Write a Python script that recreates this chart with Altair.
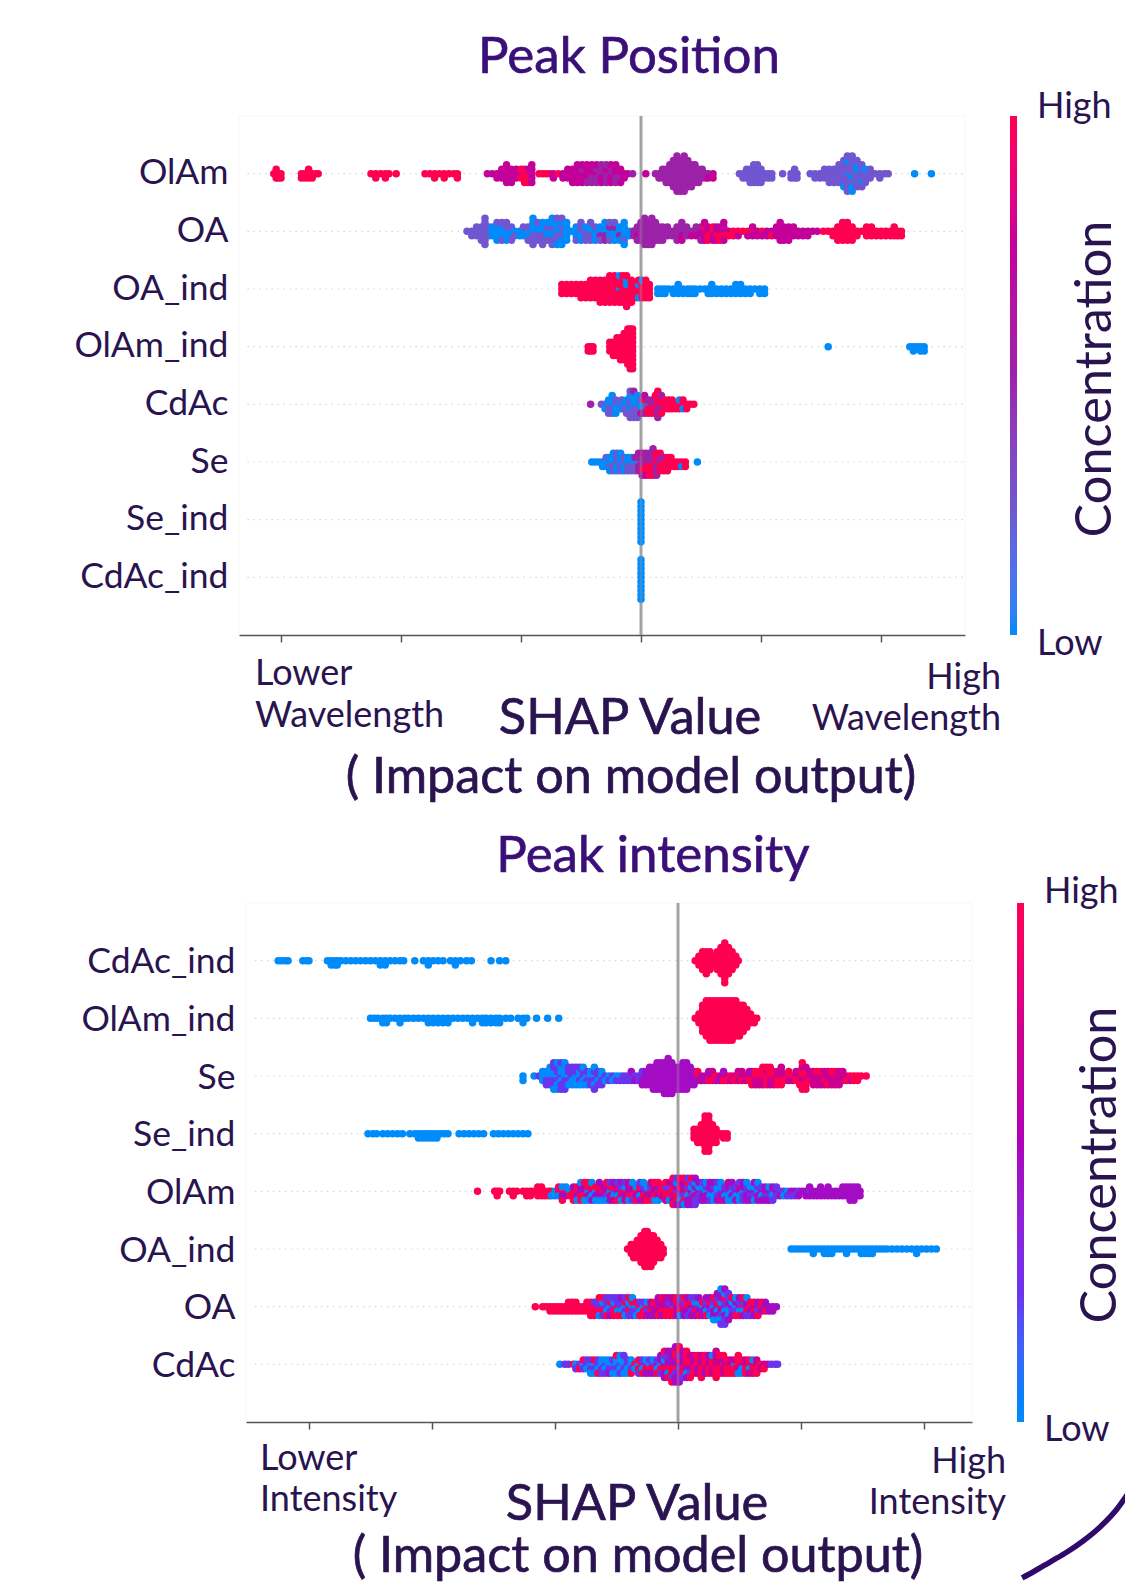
import json
import math
import altair as alt

# ---- labels -----------------------------------------------------------------
ROWS_POSITION = ["OlAm", "OA", "OA_ind", "OlAm_ind", "CdAc", "Se", "Se_ind", "CdAc_ind"]
ROWS_INTENSITY = ["CdAc_ind", "OlAm_ind", "Se", "Se_ind", "OlAm", "OA_ind", "OA", "CdAc"]
TICKS = [-3, -2, -1, 0, 1, 2]
# concentration: 0 low ... 4 high
LEVELS = [0.0, 0.25, 0.5, 0.75, 1.0]

# ---- Peak Position: (SHAP value x100, colour level of each stacked dot) ------
P_OLAM = [(-306,"4"),(-304,"444"),(-302,"44"),(-300,"44"),(-283,"44"),(-280,"44"),(-277,"444"),(-274,"44"),(-271,"4"),(-269,"4"),
 (-225,"4"),(-221,"44"),(-217,"4"),(-213,"44"),(-210,"4"),(-204,"4"),(-180,"4"),(-176,"4"),(-172,"44"),(-168,"4"),(-164,"44"),(-160,"4"),(-156,"4"),(-153,"44"),
 (-128,"3"),(-124,"3"),(-120,"33"),(-116,"333"),(-112,"33333"),(-108,"3333"),(-104,"333"),(-100,"344"),(-97,"4444"),(-94,"4434"),(-91,"33333"),
 (-85,"4"),(-82,"4"),(-79,"4"),(-76,"4"),(-73,"33"),(-69,"4"),(-65,"33"),(-61,"333"),(-57,"3333"),(-53,"33333"),(-49,"33233"),(-45,"33323"),(-41,"32323"),(-37,"32223"),
 (-33,"23232"),(-29,"22322"),(-25,"23233"),(-21,"32323"),(-17,"3233"),(-14,"33"),(-11,"3"),(-7,"2"),(4,"3"),
 (12,"2"),(15,"22"),(18,"222"),(21,"2222"),(24,"22222"),(27,"2222222"),(30,"222222222"),(33,"22222222"),(36,"222222222"),(39,"2222222"),(42,"222222"),(45,"22222"),(48,"2222"),(51,"222"),(54,"22"),(56,"23"),(60,"33"),
 (82,"1"),(85,"11"),(88,"111"),(91,"1111"),(94,"11111"),(97,"11111"),(100,"1111"),(103,"11"),(106,"11"),(109,"11"),(118,"1"),(125,"11"),(128,"111"),(130,"11"),
 (141,"1"),(145,"11"),(149,"11"),(153,"111"),(157,"1111"),(161,"1111"),(165,"11111"),(169,"1111101"),(172,"011111011"),(176,"101110101"),(180,"1101011"),(184,"111011"),(187,"1101"),(191,"111"),(195,"1"),(199,"11"),(203,"1"),(206,"1"),
 (228,"0"),(242,"0")]
P_OA = [(-145,"1"),(-141,"11"),(-137,"111"),(-133,"1111"),(-130,"1111111"),(-127,"111"),(-124,"000"),(-120,"00001"),(-116,"00011"),(-112,"00101"),(-108,"0011"),(-105,"01"),(-101,"00"),(-98,"001"),
 (-94,"0011"),(-90,"0101010"),(-86,"01011"),(-82,"010101"),(-78,"00110"),(-74,"0011010"),(-70,"0101001"),(-66,"0110001"),(-62,"00000"),(-58,"0"),
 (-54,"0001"),(-50,"10101"),(-46,"1101"),(-42,"01011"),(-38,"0010"),(-34,"0201"),(-30,"02020"),(-26,"00211"),(-22,"00201"),(-18,"0200"),(-14,"000100"),(-10,"00"),(-7,"0"),
 (-6,"22"),(-3,"2322"),(0,"22222"),(3,"2222222"),(6,"222222"),(9,"2222222"),(12,"22222"),(15,"2222"),(18,"2222"),(22,"222"),(26,"22"),(30,"2222"),(34,"23232"),(38,"222"),(42,"23"),(46,"232"),(50,"3322"),(53,"33433"),(56,"3434"),(60,"4343"),(63,"3433"),
 (66,"3434"),(69,"34333"),(73,"34"),(77,"44"),(81,"43"),(85,"4"),(89,"43"),(93,"433"),(97,"33"),(101,"43"),(105,"33"),(109,"34"),(113,"333"),(116,"33333"),(119,"3333"),(123,"3333"),(127,"333"),(131,"33"),(135,"33"),(139,"33"),(143,"3"),(147,"3"),
 (152,"4"),(156,"4"),(160,"44"),(164,"4444"),(168,"44444"),(172,"44444"),(176,"4444"),(180,"44"),(184,"4"),(188,"444"),(192,"444"),(196,"44"),(200,"44"),(204,"44"),(208,"44"),(211,"444"),(214,"44"),(217,"44")]
P_OA_IND = [(-66,"444"),(-62,"444"),(-58,"444"),(-54,"444"),(-50,"4444"),(-46,"4444"),(-42,"44444"),(-38,"44444"),(-34,"444444"),(-30,"444444"),(-26,"4444444"),(-22,"4444444"),(-18,"0444440"),(-15,"4444444"),(-12,"44040444"),(-8,"444444"),(-5,"4444"),(-2,"44004"),(1,"44440"),(4,"44444"),(7,"4444"),
 (14,"00"),(17,"00"),(20,"00"),(23,"0"),(27,"00"),(31,"000"),(35,"00"),(39,"00"),(42,"00"),(45,"00"),(49,"0"),(53,"0"),(56,"00"),(59,"000"),(63,"00"),(67,"00"),(71,"00"),(75,"00"),(79,"000"),(83,"000"),(87,"00"),(91,"00"),(95,"0"),(99,"00"),(103,"00")]
P_OLAM_IND = [(-44,"44"),(-42,"44"),(-40,"44"),(-26,"444"),(-23,"4444"),(-20,"44444"),(-17,"444444"),(-14,"4444444"),(-11,"444444444"),(-9,"4444444444"),(-7,"4444444444"),
 (156,"0"),(224,"0"),(227,"00"),(230,"0"),(233,"00"),(236,"00")]
P_CDAC = [(-42,"2"),(-33,"1"),(-30,"10"),(-27,"0101"),(-24,"01010"),(-21,"1010"),(-18,"00"),(-16,"101"),(-14,"01"),(-12,"0101"),(-9,"1011011"),(-6,"0101012"),(-3,"010101"),
 (0,"0013"),(3,"01423"),(6,"1424"),(9,"2424"),(12,"24244"),(14,"4242424"),(17,"42442"),(20,"444"),(23,"444"),(26,"444"),(29,"44"),(32,"440"),(35,"404"),(38,"44"),(41,"4"),(44,"4")]
P_SE = [(-41,"0"),(-38,"0"),(-35,"0"),(-32,"00"),(-29,"001"),(-26,"0100"),(-23,"01010"),(-20,"10101"),(-17,"01010"),(-14,"1010"),(-11,"0101"),(-8,"0101"),(-5,"0121"),(-2,"12222"),
 (1,"222432"),(4,"242423"),(7,"242424"),(10,"2424242"),(13,"424242"),(16,"24244"),(19,"4424"),(22,"4444"),(25,"444"),(28,"44"),(31,"44"),(34,"40"),(37,"44"),(47,"0")]
P_SE_IND = [(0,"0000000000")]
P_CDAC_IND = [(0,"0000000000")]

# ---- Peak intensity ----------------------------------------------------------
I_CDAC_IND = [(-325,"0"),(-322,"0"),(-319,"0"),(-317,"0"),(-305,"0"),(-302,"0"),(-300,"0"),(-285,"0"),(-282,"00"),(-279,"00"),(-277,"00"),(-274,"0"),(-270,"0"),(-266,"0"),(-262,"0"),(-258,"0"),(-254,"0"),(-250,"0"),(-246,"0"),(-242,"00"),(-238,"00"),(-234,"0"),(-230,"0"),(-226,"0"),(-223,"0"),
 (-214,"0"),(-207,"0"),(-203,"00"),(-199,"0"),(-195,"0"),(-191,"0"),(-185,"0"),(-181,"00"),(-177,"0"),(-172,"0"),(-168,"0"),(-152,"0"),(-145,"0"),(-140,"0"),
 (14,"4"),(17,"444"),(20,"44444"),(23,"444444"),(26,"44444"),(29,"444"),(32,"44444"),(35,"4444444"),(38,"4444444444"),(41,"4444444"),(44,"44444"),(47,"444"),(49,"4")]
I_OLAM_IND = [(-250,"0"),(-247,"0"),(-244,"0"),(-240,"00"),(-237,"00"),(-234,"0"),(-230,"0"),(-226,"00"),(-222,"0"),(-219,"0"),(-215,"0"),(-211,"0"),(-207,"0"),(-203,"00"),(-199,"00"),(-195,"00"),(-191,"00"),(-187,"00"),(-183,"0"),(-179,"0"),(-175,"0"),(-171,"0"),(-167,"00"),(-163,"0"),(-159,"00"),(-156,"00"),(-152,"00"),(-148,"00"),(-145,"00"),(-140,"0"),(-136,"0"),(-130,"0"),(-126,"00"),(-123,"0"),(-115,"0"),(-106,"0"),(-97,"0"),
 (14,"4"),(17,"444"),(20,"4444444"),(23,"444444444"),(26,"4444444444"),(29,"4444444444"),(32,"4444444444"),(35,"4444444444"),(38,"4444444444"),(41,"4444444444"),(44,"4444444444"),(47,"444444444"),(50,"44444444"),(53,"4444444"),(56,"44444"),(59,"444"),(62,"44"),(64,"4")]
I_SE = [(-126,"00"),(-117,"0"),(-113,"1"),(-110,"000"),(-107,"0101"),(-104,"01010"),(-101,"0101101"),(-98,"0110100"),(-95,"1001011"),(-92,"0101010"),(-89,"01101"),(-86,"10101"),(-83,"00101"),(-80,"01001"),(-77,"10100"),(-74,"0110"),(-71,"0101"),(-68,"011001"),(-65,"1011"),(-62,"0101"),(-59,"10"),(-56,"01"),(-53,"10"),(-50,"01"),(-47,"01"),(-44,"11"),(-41,"11"),(-38,"112"),(-35,"12"),
 (-32,"11"),(-29,"1212"),(-26,"2222"),(-23,"22222"),(-20,"222222"),(-17,"2222222"),(-14,"2222222"),(-11,"22222222"),(-8,"222222222"),(-5,"22222222"),(-2,"222222"),(1,"222222"),(4,"2222222"),(7,"2222222"),(10,"22222"),(13,"2222"),(16,"424"),
 (19,"23"),(22,"32"),(25,"242"),(28,"343"),(31,"43"),(34,"32"),(37,"342"),(40,"34"),(43,"43"),(46,"34"),(49,"433"),(52,"343"),(55,"33"),(58,"343"),(60,"3424"),(63,"4343"),(66,"4343"),(69,"43434"),(72,"44344"),(75,"43434"),(78,"4343"),(81,"3434"),(84,"34343"),(87,"34"),(90,"434"),(93,"43"),(96,"343"),(99,"3434"),
 (101,"4344344"),(104,"434434"),(107,"343"),(110,"3333"),(113,"3343"),(116,"3343"),(119,"3433"),(122,"3334"),(125,"3343"),(128,"3343"),(131,"3333"),(134,"333"),(137,"34"),(140,"43"),(143,"44"),(146,"44"),(149,"4"),(153,"4")]
I_SE_IND = [(-252,"0"),(-248,"0"),(-245,"0"),(-240,"0"),(-236,"0"),(-232,"0"),(-228,"0"),(-224,"0"),(-218,"0"),(-214,"0"),(-211,"00"),(-208,"00"),(-205,"00"),(-202,"00"),(-199,"00"),(-196,"00"),(-193,"0"),(-190,"0"),(-187,"0"),(-178,"0"),(-174,"0"),(-170,"0"),(-166,"0"),(-162,"0"),(-158,"0"),(-150,"0"),(-146,"0"),(-142,"0"),(-138,"0"),(-134,"0"),(-130,"0"),(-126,"0"),(-122,"0"),
 (13,"444"),(16,"4444"),(19,"44444"),(22,"444444444"),(25,"444444444"),(28,"44444"),(31,"4444"),(34,"4"),(37,"44"),(40,"44")]
I_OLAM = [(-163,"4"),(-149,"4"),(-147,"44"),(-145,"4"),(-137,"4"),(-134,"44"),(-131,"4"),(-126,"4"),(-123,"44"),(-120,"44"),(-117,"4"),(-114,"444"),(-111,"444"),(-108,"44"),(-105,"44"),(-103,"40"),(-100,"00"),(-97,"404"),(-94,"4204"),(-91,"420"),(-88,"04"),
 (-85,"4424"),(-82,"4240"),(-79,"24240"),(-76,"24204"),(-73,"02404"),(-70,"20420"),(-67,"0240"),(-64,"32402"),(-61,"4230"),(-58,"31204"),(-55,"03421"),(-52,"10432"),(-49,"20341"),(-46,"43102"),(-43,"42031"),(-40,"34203"),(-37,"24310"),(-34,"4204"),(-31,"30421"),(-28,"24130"),(-25,"1304"),(-22,"42143"),(-19,"24304"),(-16,"43204"),(-13,"434"),(-10,"44134"),(-7,"44103"),(-4,"4343244"),(-1,"1424021"),
 (2,"2140324"),(5,"3124204"),(8,"4012421"),(11,"2102124"),(14,"0321012"),(17,"21012"),(20,"12021"),(23,"02120"),(26,"10212"),(29,"20102"),(32,"01021"),(35,"12030"),(38,"2012"),(41,"10203"),(44,"02102"),(47,"2012"),(50,"20301"),(53,"01212"),(56,"12120"),(59,"2102"),(62,"21002"),(65,"02120"),(68,"2012"),(71,"2122"),(74,"2102"),(77,"1021"),(80,"211"),(83,"12"),(86,"10"),(89,"01"),
 (92,"21"),(95,"21"),(98,"12"),(101,"2"),(104,"22"),(107,"122"),(110,"22"),(113,"22"),(116,"222"),(119,"22"),(122,"222"),(125,"22"),(128,"22"),(131,"22"),(134,"222"),(137,"222"),(140,"2222"),(143,"2222"),(146,"222"),(148,"22")]
I_OA_IND = [(-41,"4"),(-38,"444"),(-36,"4444"),(-33,"44444"),(-30,"4444444"),(-27,"444444444"),(-25,"444444444"),(-22,"44444444"),(-20,"4444444"),(-17,"44444"),(-14,"4444"),(-12,"44"),
 (92,"0"),(95,"0"),(98,"0"),(101,"0"),(104,"0"),(107,"0"),(110,"00"),(113,"0"),(116,"0"),(119,"00"),(122,"00"),(125,"00"),(128,"0"),(131,"0"),(134,"0"),(137,"00"),(140,"0"),(143,"0"),(146,"0"),(149,"00"),(152,"00"),(155,"00"),(158,"00"),(161,"0"),(164,"0"),(167,"0"),(170,"0"),(174,"0"),(178,"0"),(182,"0"),(186,"0"),(190,"0"),(194,"00"),(198,"0"),(202,"0"),(206,"0"),(210,"0")]
I_OA = [(-116,"4"),(-110,"4"),(-107,"4"),(-104,"44"),(-101,"44"),(-98,"44"),(-95,"44"),(-92,"44"),(-89,"444"),(-86,"444"),(-83,"444"),(-80,"44"),(-77,"44"),(-74,"444"),(-71,"4444"),(-68,"4414"),(-64,"14104"),(-61,"14014"),(-58,"10141"),(-55,"01421"),(-52,"14041"),(-49,"40141"),(-46,"10142"),(-43,"01401"),(-40,"14014"),(-37,"01410"),(-34,"0140"),(-31,"4014"),(-28,"0414"),(-25,"4102"),
 (-22,"2432"),(-19,"3242"),(-16,"43242"),(-13,"24324"),(-10,"34243"),(-7,"24142"),(-4,"14243"),(-1,"23424"),(2,"24201"),(5,"42124"),(8,"42412"),(11,"21421"),(14,"24021"),(17,"12042"),(20,"0242"),(23,"20142"),(26,"21402"),(29,"021240"),(32,"2042102"),(35,"420120210"),(38,"201241012"),(41,"1020121"),(44,"21024"),(47,"01240"),(50,"20142"),(53,"40124"),(56,"24210"),(59,"4241"),(62,"2442"),(65,"2124"),(68,"424"),(71,"242"),(74,"22"),(77,"22"),(80,"2")]
I_CDAC = [(-96,"0"),(-92,"1"),(-89,"1"),(-85,"4"),(-83,"01"),(-80,"14"),(-77,"014"),(-74,"101"),(-71,"0110"),(-68,"0140"),(-65,"1014"),(-62,"0101"),(-59,"1001"),(-56,"0102"),(-53,"0110"),(-50,"01004"),(-47,"10010"),(-44,"01001"),(-41,"1010"),(-38,"0104"),(-35,"40"),(-32,"0441"),(-29,"4014"),(-26,"1402"),(-23,"0412"),(-20,"1402"),(-17,"2014"),(-14,"04212"),
 (-11,"2402124"),(-8,"2420142"),(-5,"24242124"),(-2,"242142422"),(1,"214212424"),(4,"2424212"),(7,"4240424"),(10,"424134"),(13,"34243"),(16,"42434"),(19,"342434"),(22,"43424"),(25,"34342"),(28,"43430"),(31,"3434343"),(34,"34344"),(37,"43234"),(40,"3444"),(43,"3434"),(46,"0434"),(49,"43404"),(52,"3040"),(55,"3434"),(58,"4043"),(61,"3403"),(64,"3434"),(67,"43"),(70,"34"),(73,"3"),(76,"1"),(79,"1"),(81,"1")]

# decorative corner arc of the slide, in the lower panel's units
ARC_X = [3.683, 3.569, 3.431, 3.293, 3.163, 3.024, 2.886, 2.797]
ARC_Y = [9.161, 9.508, 9.820, 10.063, 10.254, 10.428, 10.601, 10.704]

INK = "#2a1450"
TITLE_INK = "#3a1078"
FONT = "Lato"
STEP = 0.0763  # vertical spacing of stacked dots, in row units


def records(rows):
    out = []
    for i, row in enumerate(rows):
        for x, code in row:
            for k, level in enumerate(code):
                layer = math.ceil(k / 2) * (1 if k % 2 else -1)
                out.append({"x": x / 100, "y": i + layer * STEP, "c": LEVELS[int(level)]})
    return out


def note(text, x, y, size, align="left", angle=0, color=INK, bold=0):
    return alt.Chart(alt.Data(values=[{"t": text}])).mark_text(
        align=align, baseline="alphabetic", angle=angle, font=FONT, fontSize=size,
        color=color, stroke=color, strokeWidth=bold
    ).encode(x=alt.value(x), y=alt.value(y), text="t:N")


def panel(rows, names, colors, dom, rng, grid_from, label_pad, label_off, notes, legend_x, extra=None):
    xs = alt.Scale(domain=dom, range=rng, nice=False, zero=False)
    ys = alt.Scale(domain=[-1, 8], reverse=True, nice=False, zero=False)
    labels = "[" + ",".join(json.dumps(n) for n in names) + "][datum.value]"
    x_axis = alt.Axis(values=TICKS, labels=False, title=None, grid=False, tickSize=7, tickWidth=1.5,
                      tickColor="#555555", domainColor="#555555", domainWidth=1.6)
    y_axis = alt.Axis(values=list(range(8)), labelExpr=labels, title=None, grid=False, ticks=False, domain=False,
                      labelFont=FONT, labelFontSize=35.5, labelColor=INK, labelPadding=label_pad,
                      labelOffset=label_off, labelOverlap=False)
    X = alt.X("x:Q", scale=xs, axis=x_axis)
    Y = alt.Y("y:Q", scale=ys, axis=y_axis)
    frame_v = alt.Chart(alt.Data(values=[{"x": dom[0]}, {"x": dom[1]}])).mark_rule(
        color="#f7f7f7", strokeWidth=1).encode(x=X)
    frame_h = alt.Chart(alt.Data(values=[{"x": dom[0], "x2": dom[1], "y": -1}])).mark_rule(
        color="#f7f7f7", strokeWidth=1).encode(x=X, x2="x2:Q", y=Y)
    grid = alt.Chart(alt.Data(values=[{"x": grid_from, "x2": dom[1], "y": i} for i in range(8)])).mark_rule(
        color="#d8d8d8", strokeWidth=1.2, strokeDash=[1.5, 4.5]).encode(x=X, x2="x2:Q", y=Y)
    zero = alt.Chart(alt.Data(values=[{"x": 0}])).mark_rule(color="#a3a3a3", strokeWidth=2.8).encode(x=X)
    over = alt.Chart(alt.Data(values=[{"x": 0}])).mark_rule(color="#a3a3a3", strokeWidth=2.8, opacity=0.3).encode(x=X)
    dots = alt.Chart(alt.Data(values=records(rows))).mark_circle(size=56, opacity=1).encode(
        x=X, y=Y,
        color=alt.Color("c:Q", scale=alt.Scale(domain=LEVELS, range=colors), legend=alt.Legend(
            orient="none", legendX=legend_x, legendY=0, title=None, gradientLength=519,
            gradientThickness=7, values=[0, 1], labelExpr="''", padding=0)),
    )
    layers = [frame_v, frame_h, grid, zero, dots, over] + [note(*n[:3], **n[3]) for n in notes]
    if extra is not None:
        arc = alt.Chart(alt.Data(values=[{"x": a, "y": b} for a, b in zip(*extra)])).mark_line(
            color="#300a6b", strokeWidth=5.5, interpolate="monotone").encode(x=X, y=Y)
        layers.append(arc)
    return alt.layer(*layers).properties(width=733, height=519)


# panel origin on the page: x 239; y 115 and 901
pos_notes = [
    ("Peak Position", 390, -43, dict(size=51, align="center", color=TITLE_INK, bold=0.7)),
    ("Lower", 16, 569, dict(size=36)),
    ("Wavelength", 16, 611, dict(size=36)),
    ("High", 762, 573, dict(size=36, align="right")),
    ("Wavelength", 762, 614, dict(size=36, align="right")),
    ("SHAP Value", 391, 618, dict(size=50.5, align="center", bold=0.7)),
    ("( Impact on model output)", 392, 677, dict(size=50.3, align="center", bold=0.7)),
    ("High", 798, 2, dict(size=36)),
    ("Low", 798, 539, dict(size=36)),
    ("Concentration", 872, 263, dict(size=50.5, align="center", angle=270)),
]
int_notes = [
    ("Peak intensity", 414, -31, dict(size=51, align="center", color=TITLE_INK, bold=0.7)),
    ("Lower", 21, 567, dict(size=36)),
    ("Intensity", 21, 608, dict(size=36)),
    ("High", 767, 570, dict(size=36, align="right")),
    ("Intensity", 767, 611, dict(size=36, align="right")),
    ("SHAP Value", 398, 617, dict(size=50.5, align="center", bold=0.7)),
    ("( Impact on model output)", 399, 669, dict(size=50.3, align="center", bold=0.7)),
    ("High", 805, 0, dict(size=36)),
    ("Low", 805, 538, dict(size=36)),
    ("Concentration", 877, 262, dict(size=50.5, align="center", angle=270)),
]

top = panel([P_OLAM, P_OA, P_OA_IND, P_OLAM_IND, P_CDAC, P_SE, P_SE_IND, P_CDAC_IND], ROWS_POSITION,
            ["#008bfb", "#7056d0", "#9c22a8", "#c4009a", "#ff0051"],
            [-3.35, 2.7], [0, 726], -3.28, 11, -1, pos_notes, 771)
bottom = panel([I_CDAC_IND, I_OLAM_IND, I_SE, I_SE_IND, I_OLAM, I_OA_IND, I_OA, I_CDAC], ROWS_INTENSITY,
               ["#008bfb", "#6a34ee", "#a40cc4", "#cc0090", "#ff0051"],
               [-3.512, 2.39], [7, 733], -3.44, 4, 1, int_notes, 778, (ARC_X, ARC_Y))

chart = alt.vconcat(top, bottom, spacing=268, bounds="flush").resolve_scale(
    color="independent", x="independent", y="independent"
).properties(
    padding={"left": 65, "top": 24, "right": -18, "bottom": -3},
).configure_view(stroke=None)

chart.save("out.html", embed_options={"renderer": "svg", "actions": False})
